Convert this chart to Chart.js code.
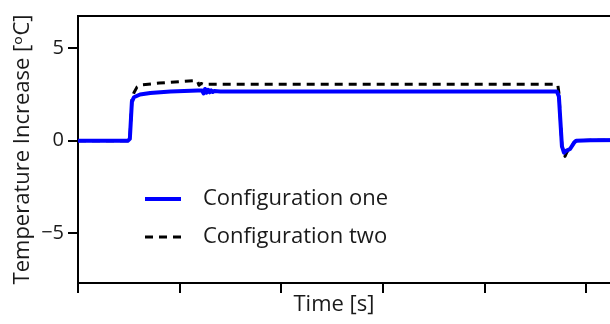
<!DOCTYPE html>
<html>
<head>
<meta charset="utf-8">
<script src="https://cdn.jsdelivr.net/npm/chart.js@4/dist/chart.umd.min.js"></script>
<style>
html,body{margin:0;padding:0;background:#fff;overflow:hidden;}
#wrap{width:630px;height:324px;}
</style>
</head>
<body>
<div id="wrap"><canvas id="c" width="630" height="324"></canvas></div>
<script>
// Time axis in tick units (ticks at 0..5), values in °C
const timeOne = [0, 0.49, 0.51, 0.53, 0.55, 0.61, 0.71, 0.91, 1.18, 1.22, 1.235, 1.25, 1.265, 1.28, 1.295, 1.31, 1.325, 1.34, 1.40, 4.71, 4.73, 4.76, 4.78, 4.80, 4.84, 4.88, 4.90, 5.04, 5.40];
const tempOne = [0, 0, 0.1, 2.1, 2.35, 2.5, 2.58, 2.66, 2.72, 2.72, 2.56, 2.8, 2.6, 2.76, 2.62, 2.72, 2.64, 2.69, 2.66, 2.66, 2.4, -0.3, -0.65, -0.55, -0.45, -0.1, 0.0, 0.02, 0.04];
const timeTwo = [0, 0.49, 0.51, 0.53, 0.55, 0.58, 0.62, 0.8, 1.0, 1.17, 1.18, 1.19, 1.21, 1.23, 1.3, 4.70, 4.72, 4.73, 4.76, 4.79, 4.81, 4.84, 4.88, 4.90, 5.04, 5.40];
const tempTwo = [0, 0, 0.1, 2.2, 2.6, 2.9, 3.02, 3.12, 3.2, 3.26, 3.15, 3.0, 3.1, 3.05, 3.06, 3.06, 3.0, 2.6, -0.3, -0.85, -0.6, -0.45, -0.1, 0.0, 0.02, 0.04];
const seriesNames = ['Configuration one', 'Configuration two'];
const yTicks = [-5, 0, 5];
const xTicks = [0, 1, 2, 3, 4, 5];
const xTitle = 'Time [s]';
const yTitle = 'Temperature Increase [\u1D52C]';

const FONT = '"Open Sans", "DejaVu Sans", sans-serif';
const TXT = '#1a1a1a';

function pts(xs, ys){ return xs.map((x,i)=>({x:x, y:ys[i]})); }

const legendPlugin = {
  id: 'inLegend',
  afterDraw(chart){
    const ctx = chart.ctx;
    const items = chart.data.datasets;
    const rows = [199, 237];
    ctx.save();
    items.forEach((ds, i) => {
      const y = rows[i];
      ctx.beginPath();
      ctx.strokeStyle = ds.borderColor;
      ctx.lineWidth = ds.borderWidth;
      ctx.setLineDash(ds.borderDash || []);
      ctx.moveTo(145, y);
      ctx.lineTo(181, y);
      ctx.stroke();
      ctx.setLineDash([]);
      ctx.fillStyle = TXT;
      ctx.font = '22px ' + FONT;
      ctx.textAlign = 'left';
      ctx.textBaseline = 'middle';
      ctx.fillText(ds.label, 203, y);
    });
    // x axis title
    ctx.font = '22px ' + FONT;
    ctx.textAlign = 'center';
    ctx.textBaseline = 'middle';
    ctx.fillStyle = TXT;
    ctx.fillText(xTitle, 334, 305);
    ctx.restore();
  }
};

new Chart(document.getElementById('c'), {
  type: 'line',
  data: {
    datasets: [
      { label: seriesNames[0], data: pts(timeOne, tempOne), borderColor: '#0000ff', borderWidth: 4, borderJoinStyle: 'round', pointRadius: 0, tension: 0, fill: false },
      { label: seriesNames[1], data: pts(timeTwo, tempTwo), borderColor: '#000000', borderWidth: 3, borderJoinStyle: 'round', borderDash: [8, 6], pointRadius: 0, tension: 0, fill: false }
    ]
  },
  options: {
    responsive: false,
    animation: false,
    devicePixelRatio: 1,
    layout: { padding: { top: 15, left: 0, right: 3, bottom: 0 } },
    plugins: { legend: { display: false }, tooltip: { enabled: false } },
    scales: {
      x: {
        type: 'linear', position: 'bottom', min: 0, max: 5.40,
        afterBuildTicks: s => { s.ticks = xTicks.map(v => ({value: v})); },
        afterFit: s => { s.height = 41; },
        ticks: { display: true, callback: () => '' },
        grid: { drawOnChartArea: false, drawTicks: true, tickLength: 10, color: '#000', lineWidth: 2 },
        border: { display: true, color: '#000', width: 2 },
        title: { display: false }
      },
      x2: {
        type: 'linear', position: 'top', min: 0, max: 1,
        afterFit: s => { s.height = 0; },
        ticks: { display: false },
        grid: { display: false, drawTicks: false },
        border: { display: true, color: '#000', width: 2 }
      },
      y: {
        type: 'linear', min: -7.7, max: 6.75,
        afterBuildTicks: s => { s.ticks = yTicks.map(v => ({value: v})); },
        afterFit: s => { s.width = 78; },
        ticks: { color: TXT, font: { family: FONT, size: 20 }, padding: 4,
                 callback: v => v < 0 ? '\u2212' + Math.abs(v) : String(v) },
        grid: { drawOnChartArea: false, drawTicks: true, tickLength: 10, color: '#000', lineWidth: 2 },
        border: { display: true, color: '#000', width: 2 },
        title: { display: true, text: yTitle, color: TXT, font: { family: FONT, size: 22 }, padding: { top: 10, bottom: 0 } }
      }
    }
  },
  plugins: [legendPlugin]
});
</script>
</body>
</html>
